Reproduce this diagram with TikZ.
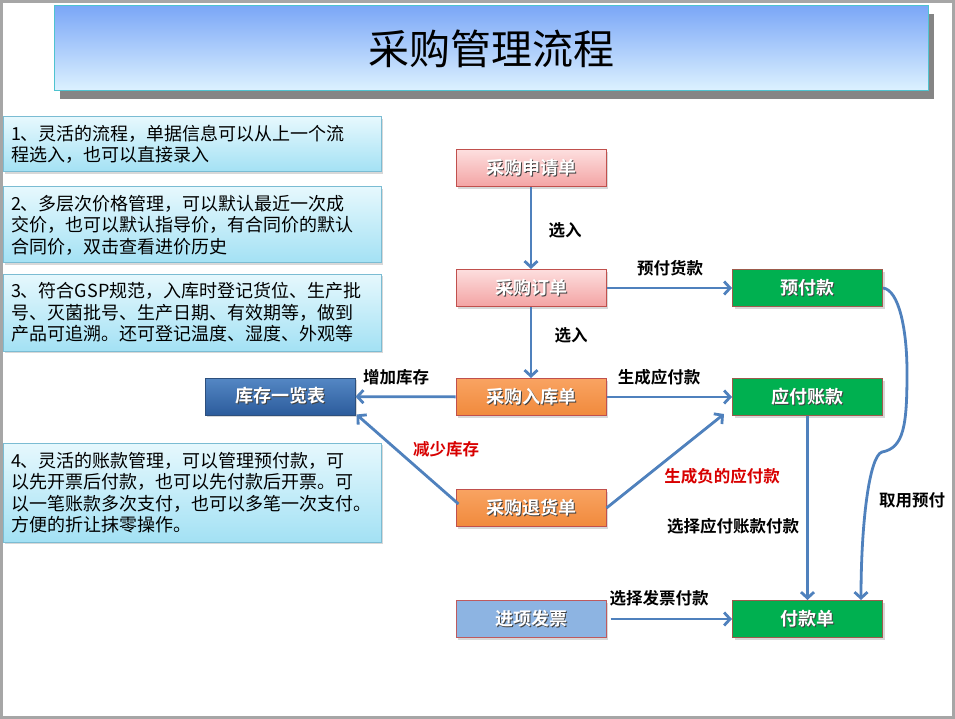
\documentclass[tikz,border=0pt]{standalone}
\usepackage{fontspec}
\setmainfont{Noto Sans CJK SC}[BoldFont={Noto Sans CJK SC Bold}]
\usetikzlibrary{arrows.meta,shadows}
\definecolor{lineblue}{HTML}{4F81BD}
\definecolor{pinktop}{HTML}{FDDEDE}
\definecolor{pinkbot}{HTML}{F3A3A3}
\definecolor{redbord}{HTML}{C0504D}
\definecolor{orgtop}{HTML}{F9A362}
\definecolor{orgbot}{HTML}{F08A3C}
\definecolor{grnfill}{HTML}{00B050}
\definecolor{grnbord}{HTML}{9C5B4C}
\definecolor{stktop}{HTML}{5487C4}
\definecolor{stkbot}{HTML}{2C5C9C}
\definecolor{stkbord}{HTML}{2D4F7C}
\definecolor{invfill}{HTML}{8DB4E2}
\definecolor{invbord}{HTML}{BE5A5E}
\definecolor{notetop}{HTML}{E6F8FD}
\definecolor{notebot}{HTML}{A3E1F4}
\definecolor{notebord}{HTML}{7BBCD3}
\definecolor{titletop}{HTML}{7BA7F7}
\definecolor{titlebot}{HTML}{DDF2FF}
\definecolor{titlebord}{HTML}{4EC3CF}
\definecolor{labred}{HTML}{D80000}
\newcommand\wsh[1]{\makebox[0pt][l]{\kern1.2pt\raisebox{-1.2pt}{\textcolor{black!75}{#1}}}\textcolor{white}{#1}}
\begin{document}
\begin{tikzpicture}[x=1pt,y=-1pt,
  flow/.style={draw, line width=1pt, minimum width=150pt, minimum height=37pt, inner sep=0pt,
    font=\fontsize{18}{20}\selectfont\bfseries,
    drop shadow={shadow xshift=2pt, shadow yshift=-2pt, opacity=0.3}},
  pinkbox/.style={flow, draw=redbord, top color=pinktop, bottom color=pinkbot},
  orgbox/.style={flow, draw=redbord, top color=orgtop, bottom color=orgbot},
  grnbox/.style={flow, draw=grnbord, fill=grnfill},
  stkbox/.style={flow, draw=stkbord, top color=stktop, bottom color=stkbot},
  invbox/.style={flow, draw=invbord, fill=invfill},
  note/.style={draw=notebord, line width=1pt, top color=notetop, bottom color=notebot,
    text width=362pt, inner xsep=8pt, inner ysep=0pt, align=left,
    font=\fontsize{18}{21.5}\selectfont,
    drop shadow={shadow xshift=2pt, shadow yshift=-2pt, opacity=0.3}},
  lab/.style={font=\fontsize{16.5}{18}\selectfont\bfseries, inner sep=0pt},
  conn/.style={draw=lineblue, line width=2.8pt, -{Straight Barb[length=6pt,width=13pt]}}
]
\useasboundingbox (0,0) rectangle (955,719);
\fill[white] (0,0) rectangle (955,719);
\draw[gray!70, line width=3pt] (1.5,1.5) rectangle (953.5,717.5);

% title
\node[draw=titlebord, line width=1pt, top color=titletop, bottom color=titlebot,
  minimum width=874pt, minimum height=85pt, inner sep=0pt,
  font=\fontsize{41}{44}\selectfont,
  drop shadow={shadow xshift=6pt, shadow yshift=-8pt, opacity=1, fill=black!48}]
  (title) at (491,48.5) {采购管理流程};

% notes
\node[note, minimum height=55pt] (n1) at (192,144.5) {1、灵活的流程，单据信息可以从上一个流\\程选入，也可以直接录入};
\node[note, minimum height=76pt] (n2) at (192,225) {2、多层次价格管理，可以默认最近一次成\\交价，也可以默认指导价，有合同价的默认\\合同价，双击查看进价历史};
\node[note, minimum height=77pt] (n3) at (192,312.5) {3、符合GSP规范，入库时登记货位、生产批\\号、灭菌批号、生产日期、有效期等，做到\\产品可追溯。还可登记温度、湿度、外观等};
\node[note, minimum height=99pt] (n4) at (192,492.5) {4、灵活的账款管理，可以管理预付款，可\\以先开票后付款，也可以先付款后开票。可\\以一笔账款多次支付，也可以多笔一次支付。\\方便的折让抹零操作。};

% flow nodes
\node[pinkbox] (req) at (531,168.5) {\wsh{采购申请单}};
\node[pinkbox] (ord) at (531,288) {\wsh{采购订单}};
\node[grnbox] (pre) at (807.5,288) {\wsh{预付款}};
\node[orgbox] (inb) at (531,397) {\wsh{采购入库单}};
\node[grnbox] (pay) at (807.5,397) {\wsh{应付账款}};
\node[stkbox] (stk) at (280,396.5) {\wsh{库存一览表}};
\node[orgbox] (ret) at (531,508) {\wsh{采购退货单}};
\node[invbox] (inv) at (531,619) {\wsh{进项发票}};
\node[grnbox] (slip) at (807.5,619) {\wsh{付款单}};

% connectors
\draw[conn] (req) -- (ord);
\draw[conn] (ord) -- (pre);
\draw[conn] (ord) -- (inb);
\draw[conn] (inb) -- (pay);
\draw[conn] (inb) -- (stk);
\draw[conn] ([xshift=3pt,yshift=4pt]ret.west) -- ([xshift=1pt,yshift=1pt]stk.south east);
\draw[conn] (ret.east) -- ([xshift=-8pt,yshift=2pt]pay.south west);
\draw[conn] (pay) -- (slip);
\draw[conn] ([xshift=4pt]inv.east) -- (slip.west);
\draw[conn] (pre.east) .. controls (899,290) and (907,330) .. (907,372)
  .. controls (907,425) and (904,448) .. (882,452)
  .. controls (869,456) and (861,525) .. ([xshift=53.5pt]slip.north);

% labels
\node[lab] (l1) at (565,230) {选入};
\node[lab] (l2) at (670,268) {预付货款};
\node[lab] (l3) at (571,335) {选入};
\node[lab] (l4) at (659,377) {生成应付款};
\node[lab] (l5) at (396,377) {增加库存};
\node[lab, text=labred] (l6) at (446,449) {减少库存};
\node[lab, text=labred] (l7) at (722,476) {生成负的应付款};
\node[lab] (l8) at (733,526) {选择应付账款付款};
\node[lab] (l9) at (912,500) {取用预付};
\node[lab] (l10) at (659,598) {选择发票付款};
\end{tikzpicture}
\end{document}
